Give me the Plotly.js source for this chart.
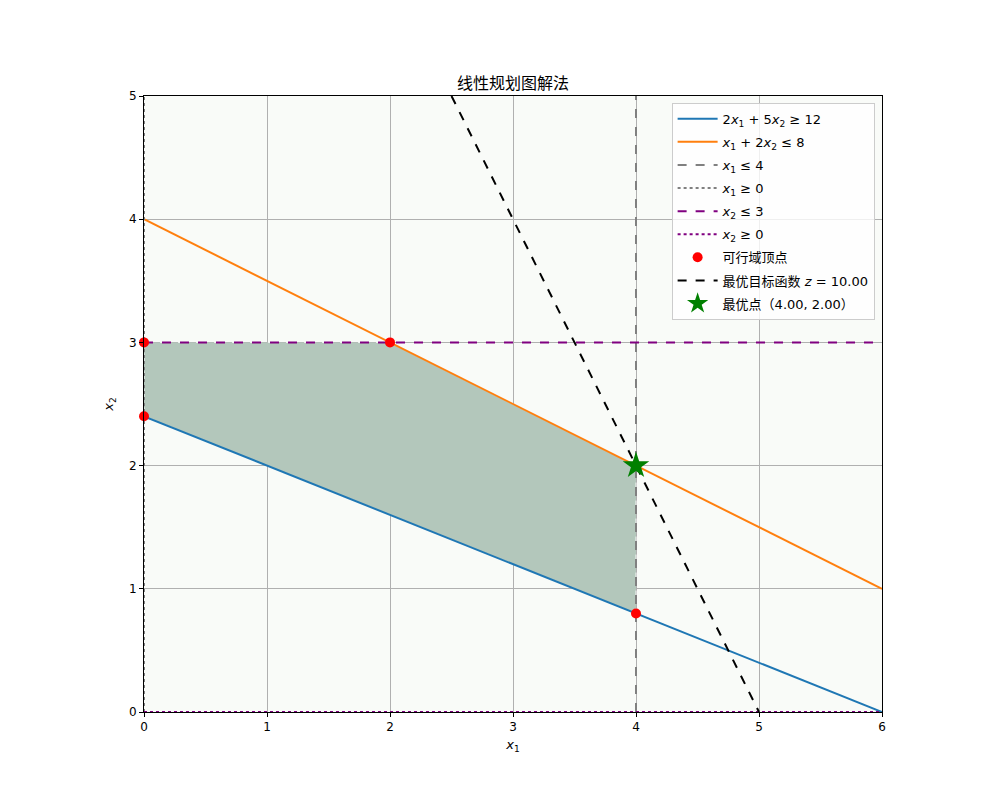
<!DOCTYPE html>
<html>
<head>
<meta charset="utf-8">
<script src="https://cdn.plot.ly/plotly-3.0.1.min.js"></script>
<style>body{margin:0;background:#fff;} #chart{width:1000px;height:800px;}</style>
</head>
<body>
<div id="chart"></div>
<script>
// Data
const xLine = [0, 6];
const c1Y = [2.4, 0];          // 2x1 + 5x2 = 12
const c2Y = [4, 1];            // x1 + 2x2 = 8
const x1Max = [4, 4];          // x1 = 4
const x1MaxY = [0, 5];
const x1Min = [0, 0];          // x1 = 0
const x2MaxY = [3, 3];         // x2 = 3
const x2MinY = [0, 0];         // x2 = 0
const vertX = [0, 0, 2, 4, 4];
const vertY = [2.4, 3, 3, 2, 0.8];
const regionX = [0, 0, 2, 4, 4, 0];
const regionY = [2.4, 3, 3, 2, 0.8, 2.4];
const objX = [2.5, 5];         // 2x1 + x2 = 10
const objY = [5, 0];
const optX = [4];
const optY = [2];
const xTicks = [0, 1, 2, 3, 4, 5, 6];
const yTicks = [0, 1, 2, 3, 4, 5];

const traces = [
  {x: regionX, y: regionY, mode: 'lines', fill: 'toself', fillcolor: '#b3c7bb',
   line: {color: 'rgba(255,255,255,0.9)', width: 1, dash: 'dash'}, showlegend: false, hoverinfo: 'skip'},
  {x: xLine, y: c1Y, mode: 'lines', line: {color: '#1f77b4', width: 2},
   name: '2<i>x</i><sub>1</sub> + 5<i>x</i><sub>2</sub> ≥ 12'},
  {x: xLine, y: c2Y, mode: 'lines', line: {color: '#ff7f0e', width: 2},
   name: '<i>x</i><sub>1</sub> + 2<i>x</i><sub>2</sub> ≤ 8'},
  {x: x1Max, y: x1MaxY, mode: 'lines', line: {color: 'gray', width: 2, dash: 'dash'},
   name: '<i>x</i><sub>1</sub> ≤ 4'},
  {x: x1Min, y: x1MaxY, mode: 'lines', line: {color: 'gray', width: 2, dash: 'dot'},
   name: '<i>x</i><sub>1</sub> ≥ 0'},
  {x: xLine, y: x2MaxY, mode: 'lines', line: {color: 'purple', width: 2, dash: 'dash'},
   name: '<i>x</i><sub>2</sub> ≤ 3'},
  {x: xLine, y: x2MinY, mode: 'lines', line: {color: 'purple', width: 2, dash: 'dot'},
   name: '<i>x</i><sub>2</sub> ≥ 0'},
  {x: vertX, y: vertY, mode: 'markers', marker: {color: 'red', size: 10},
   name: '可行域顶点', cliponaxis: false},
  {x: objX, y: objY, mode: 'lines', line: {color: 'black', width: 2, dash: 'dash'},
   name: '最优目标函数 <i>z</i> = 10.00'},
  {x: optX, y: optY, mode: 'markers', marker: {color: 'green', size: 20, symbol: 'star'},
   name: '最优点（4.00, 2.00）', cliponaxis: false}
];
traces.forEach((t, i) => { t.legendgroup = 'g' + i; });

const axisCommon = {
  showline: true, mirror: true, linecolor: 'black', linewidth: 1,
  ticks: 'outside', ticklen: 4, tickcolor: 'black',
  showgrid: true, gridcolor: '#b0b0b0', gridwidth: 1, zeroline: false,
  tickfont: {size: 12, color: 'black', family: 'DejaVu Sans'}
};

const layout = {
  width: 1000, height: 800,
  margin: {l: 144, r: 118, t: 96, b: 88},
  paper_bgcolor: 'white',
  plot_bgcolor: '#f9fbf8',
  font: {family: 'DejaVu Sans, Noto Sans CJK SC', color: 'black'},
  title: {text: '线性规划图解法', font: {size: 16, family: 'Noto Sans CJK SC', color: 'black'},
          xref: 'paper', x: 0.5, xanchor: 'center', y: 1 - 83/800, yanchor: 'middle'},
  xaxis: Object.assign({}, axisCommon, {
    range: [0, 6], tickvals: xTicks, ticktext: xTicks.map(String),
    title: {text: '<i>x</i><sub>1</sub>', font: {size: 13}, standoff: 6}
  }),
  yaxis: Object.assign({}, axisCommon, {
    range: [0, 5], tickvals: yTicks, ticktext: yTicks.map(String),
    title: {text: '<i>x</i><sub>2</sub>', font: {size: 13}, standoff: 12}
  }),
  legend: {
    x: 0.99, xanchor: 'right', y: 0.989, yanchor: 'top',
    bgcolor: 'rgba(255,255,255,0.8)', bordercolor: '#cccccc', borderwidth: 1,
    font: {size: 13, family: 'DejaVu Sans, Noto Sans CJK SC', color: 'black'},
    tracegroupgap: 3.2, itemwidth: 40
  },
  showlegend: true
};

Plotly.newPlot('chart', traces, layout, {displayModeBar: false, staticPlot: true});
</script>
</body>
</html>
